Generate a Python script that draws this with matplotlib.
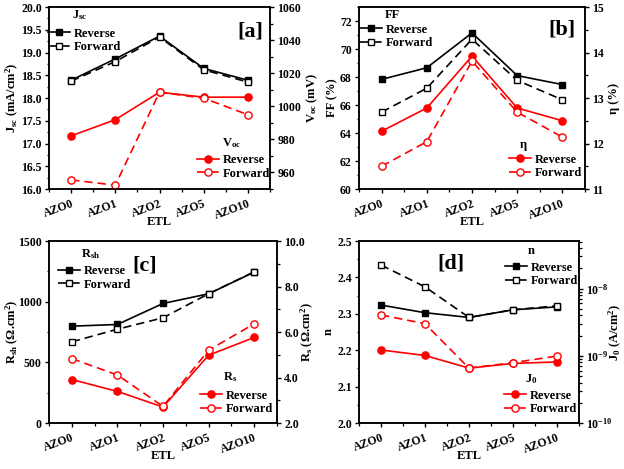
import matplotlib.pyplot as plt
from matplotlib.ticker import AutoMinorLocator, FormatStrFormatter, MultipleLocator, LogLocator, NullFormatter

plt.rcParams['font.family'] = 'Liberation Serif'
plt.rcParams['font.weight'] = 'bold'
plt.rcParams['mathtext.fontset'] = 'custom'
plt.rcParams['mathtext.rm'] = 'Liberation Serif:bold'
plt.rcParams['mathtext.it'] = 'Liberation Serif:bold'
plt.rcParams['mathtext.bf'] = 'Liberation Serif:bold'
plt.rcParams['mathtext.default'] = 'bf'
plt.rcParams['axes.linewidth'] = 1.1

etl = ['AZO0', 'AZO1', 'AZO2', 'AZO5', 'AZO10']

jsc_rev = [18.39, 18.86, 19.36, 18.65, 18.39]
jsc_fwd = [18.37, 18.80, 19.34, 18.62, 18.35]
voc_rev = [982.1, 991.9, 1008.5, 1005.5, 1005.5]
voc_fwd = [955.5, 952.3, 1008.5, 1004.9, 994.9]

ff_rev = [67.83, 68.66, 71.15, 68.10, 67.46]
ff_fwd = [65.49, 67.20, 70.70, 67.76, 66.37]
eta_rev = [12.27, 12.78, 13.92, 12.78, 12.50]
eta_fwd = [11.50, 12.04, 13.81, 12.69, 12.14]

rsh_rev = [798, 812, 985, 1065, 1244]
rsh_fwd = [669, 773, 867, 1065, 1246]
rs_rev = [3.91, 3.39, 2.70, 4.98, 5.76]
rs_fwd = [4.83, 4.11, 2.73, 5.20, 6.36]

n_rev = [2.324, 2.303, 2.290, 2.311, 2.319]
n_fwd = [2.434, 2.374, 2.290, 2.311, 2.322]
j0_rev = [1.22e-9, 1.01e-9, 6.55e-10, 7.7e-10, 8.1e-10]
j0_fwd = [4.05e-9, 3.0e-9, 6.55e-10, 7.9e-10, 9.9e-10]

x = list(range(len(etl)))
RED = '#ff0000'
FS = 9
TFS = 8.5
W, H = 624, 469

fig = plt.figure(figsize=(6.24, 4.69), dpi=100)


def px_axes(l, r, top, bot):
    return fig.add_axes([l / W, 1 - bot / H, (r - l) / W, (bot - top) / H])


ax_a = px_axes(49, 270, 7, 189)
ax_b = px_axes(359, 585, 7, 189)
ax_c = px_axes(49, 277, 241, 423)
ax_d = px_axes(359, 579, 241, 423)


def plot_pair(ax, rev, fwd, color, square):
    m = 's' if square else 'o'
    ms = 4.5 if square else 5.2
    ax.plot(x, rev, '-', color=color, marker=m, ms=ms, lw=1.2, label='Reverse')
    ax.plot(x, fwd, '--', color=color, marker=m, ms=ms, lw=1.2, mfc='white',
            mew=1.0, label='Forward', dashes=(5, 3))


def style(ax, twin, lx, rx):
    ax.set_xlim(-0.5, 4.5)
    ax.set_xticks(x)
    ax.set_xticklabels(etl, rotation=20, fontsize=TFS, fontweight='bold',
                       ha='right', rotation_mode='anchor', va='top')
    ax.xaxis.set_minor_locator(MultipleLocator(0.5))
    ax.set_xlabel('ETL', fontsize=FS, fontweight='bold')
    ax.xaxis.set_label_coords(0.5, -0.18)
    ax.xaxis.label.set_va('center')
    for a in (ax, twin):
        a.tick_params(axis='both', which='major', labelsize=TFS, length=3.2, width=1.0, pad=2)
        a.tick_params(which='minor', length=1.8, width=0.9)
        for lab in a.get_yticklabels():
            lab.set_fontweight('bold')
    ax.tick_params(axis='x', pad=3)
    ax.yaxis.set_label_coords(lx, 0.5)
    ax.yaxis.label.set_va('center')
    twin.yaxis.set_label_coords(rx, 0.5)
    twin.yaxis.label.set_va('center')


def legend_at(ax, title, xh, ytitle, xtitle, yc):
    lg = ax.legend(loc='center left', bbox_to_anchor=(xh / W, 1 - yc / H),
                   bbox_transform=fig.transFigure, frameon=False, fontsize=FS,
                   handlelength=1.75, handletextpad=0.3, borderpad=0,
                   borderaxespad=0, labelspacing=0.12)
    for t in lg.get_texts():
        t.set_fontweight('bold')
    fig.text(xtitle / W, 1 - ytitle / H, title, fontsize=FS, fontweight='bold',
             ha='left', va='center')


def panel_label(ax, s, xf, yf):
    ax.text(xf, yf, s, transform=ax.transAxes, ha='center', va='center',
            fontsize=16, fontweight='bold')


# [a]
tw_a = ax_a.twinx()
plot_pair(ax_a, jsc_rev, jsc_fwd, 'black', True)
plot_pair(tw_a, voc_rev, voc_fwd, RED, False)
ax_a.set_ylim(16.0, 20.0)
ax_a.yaxis.set_major_locator(MultipleLocator(0.5))
ax_a.yaxis.set_major_formatter(FormatStrFormatter('%.1f'))
ax_a.yaxis.set_minor_locator(AutoMinorLocator(2))
tw_a.set_ylim(950, 1060)
tw_a.yaxis.set_major_locator(MultipleLocator(20))
tw_a.yaxis.set_minor_locator(AutoMinorLocator(2))
ax_a.set_ylabel('J$_{sc}$ (mA/cm$^2$)', fontsize=FS, fontweight='bold')
tw_a.set_ylabel('V$_{oc}$ (mV)', fontsize=FS, fontweight='bold')
style(ax_a, tw_a, -0.167, 1.19)
legend_at(ax_a, 'J$_{sc}$', 48, 15, 72, 40.5)
legend_at(tw_a, 'V$_{oc}$', 197, 143, 222, 167)
panel_label(ax_a, '[a]', 0.91, 0.868)

# [b]
tw_b = ax_b.twinx()
plot_pair(ax_b, ff_rev, ff_fwd, 'black', True)
plot_pair(tw_b, eta_rev, eta_fwd, RED, False)
ax_b.set_ylim(60, 73)
ax_b.yaxis.set_major_locator(MultipleLocator(2))
ax_b.yaxis.set_minor_locator(AutoMinorLocator(2))
tw_b.set_ylim(11, 15)
tw_b.yaxis.set_major_locator(MultipleLocator(1))
tw_b.yaxis.set_minor_locator(AutoMinorLocator(2))
ax_b.set_ylabel('FF (%)', fontsize=FS, fontweight='bold')
tw_b.set_ylabel('η (%)', fontsize=FS, fontweight='bold')
style(ax_b, tw_b, -0.119, 1.128)
legend_at(ax_b, 'FF', 360, 15, 385, 36.5)
legend_at(tw_b, 'η', 509, 145, 520, 166.5)
panel_label(ax_b, '[b]', 0.898, 0.874)

# [c]
tw_c = ax_c.twinx()
plot_pair(ax_c, rsh_rev, rsh_fwd, 'black', True)
plot_pair(tw_c, rs_rev, rs_fwd, RED, False)
ax_c.set_ylim(0, 1500)
ax_c.yaxis.set_major_locator(MultipleLocator(500))
ax_c.yaxis.set_minor_locator(AutoMinorLocator(2))
tw_c.set_ylim(2.0, 10.0)
tw_c.yaxis.set_major_locator(MultipleLocator(2))
tw_c.yaxis.set_major_formatter(FormatStrFormatter('%.1f'))
tw_c.yaxis.set_minor_locator(AutoMinorLocator(2))
ax_c.set_ylabel('R$_{sh}$ (Ω.cm$^2$)', fontsize=FS, fontweight='bold')
tw_c.set_ylabel('R$_s$ (Ω.cm$^2$)', fontsize=FS, fontweight='bold')
style(ax_c, tw_c, -0.162, 1.135)
legend_at(ax_c, 'R$_{sh}$', 58, 254, 81, 278)
legend_at(tw_c, 'R$_s$', 200, 377, 223, 402.5)
panel_label(ax_c, '[c]', 0.42, 0.868)

# [d]
tw_d = ax_d.twinx()
plot_pair(ax_d, n_rev, n_fwd, 'black', True)
plot_pair(tw_d, j0_rev, j0_fwd, RED, False)
ax_d.set_ylim(2.0, 2.5)
ax_d.yaxis.set_major_locator(MultipleLocator(0.1))
ax_d.yaxis.set_minor_locator(AutoMinorLocator(2))
tw_d.set_yscale('log')
tw_d.set_ylim(1e-10, 5.1e-8)
tw_d.yaxis.set_major_locator(LogLocator(base=10, numticks=10))
tw_d.yaxis.set_minor_locator(LogLocator(base=10, subs=range(2, 10), numticks=10))
tw_d.yaxis.set_minor_formatter(NullFormatter())
ax_d.set_ylabel('n', fontsize=FS, fontweight='bold')
tw_d.set_ylabel('J$_0$ (A/cm$^2$)', fontsize=FS, fontweight='bold')
style(ax_d, tw_d, -0.136, 1.165)
legend_at(ax_d, 'n', 505, 251, 528, 274.5)
legend_at(tw_d, 'J$_0$', 504, 379, 525, 402.5)
panel_label(ax_d, '[d]', 0.42, 0.879)

fig.savefig('out.png', dpi=100)
